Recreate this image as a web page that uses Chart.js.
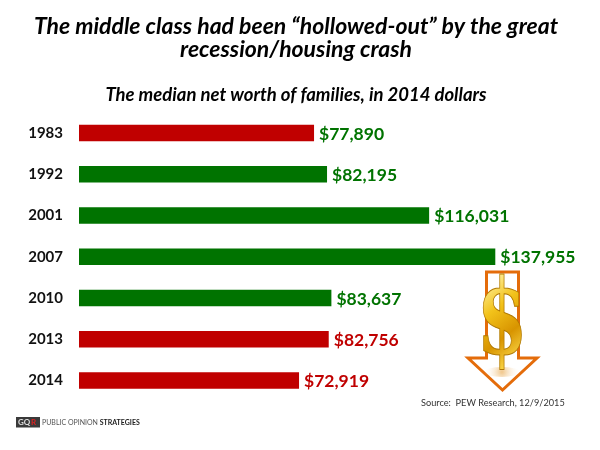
<!DOCTYPE html>
<html>
<head>
<meta charset="utf-8">
<script src="https://cdn.jsdelivr.net/npm/chart.js@4.4.1/dist/chart.umd.min.js"></script>
<style>
  html, body { margin: 0; padding: 0; background: #fff; }
  #wrap { width: 600px; height: 450px; position: relative; }
</style>
</head>
<body>
<div id="wrap"><canvas id="worthChart"></canvas></div>
<script>
// data
const years = ['1983', '1992', '2001', '2007', '2010', '2013', '2014'];
const netWorth = [77890, 82195, 116031, 137955, 83637, 82756, 72919];

const RED = '#C00000';
const GREEN = '#007300';
const barColors = [RED, GREEN, GREEN, GREEN, GREEN, RED, RED];
const labelColors = [GREEN, GREEN, GREEN, GREEN, GREEN, RED, RED];

const FONT = 'Lato, "Open Sans", sans-serif';

// dollar labels at the end of each bar
const valueLabels = {
    id: 'valueLabels',
    afterDatasetsDraw(chart) {
        const ctx = chart.ctx;
        const meta = chart.getDatasetMeta(0);
        ctx.save();
        ctx.font = 'bold 17.5px ' + FONT;
        ctx.textBaseline = 'middle';
        ctx.textAlign = 'left';
        meta.data.forEach((bar, i) => {
            ctx.fillStyle = labelColors[i];
            ctx.fillText('$' + netWorth[i].toLocaleString('en-US'), bar.x + 5, bar.y + 1);
        });
        ctx.restore();
    }
};

// arrow + dollar sign, source note and logo
const decorations = {
    id: 'decorations',
    afterDraw(chart) {
        const ctx = chart.ctx;
        ctx.save();

        // down arrow outline
        ctx.strokeStyle = '#E46C0A';
        ctx.lineWidth = 3;
        ctx.lineJoin = 'miter';
        ctx.beginPath();
        ctx.moveTo(486.5, 272);
        ctx.lineTo(518.5, 272);
        ctx.lineTo(518.5, 358);
        ctx.lineTo(537, 358);
        ctx.lineTo(502.5, 390);
        ctx.lineTo(468, 358);
        ctx.lineTo(486.5, 358);
        ctx.closePath();
        ctx.stroke();

        // glow under the dollar
        const glow = ctx.createRadialGradient(502, 372, 1, 502, 372, 18);
        glow.addColorStop(0, 'rgba(230,160,60,0.55)');
        glow.addColorStop(1, 'rgba(255,255,255,0)');
        ctx.fillStyle = glow;
        ctx.beginPath();
        ctx.ellipse(502, 372, 18, 5, 0, 0, Math.PI * 2);
        ctx.fill();

        // gold dollar sign
        ctx.save();
        ctx.translate(502, 327);
        ctx.scale(0.7, 1);
        const gold = ctx.createLinearGradient(-25, -45, 25, 45);
        gold.addColorStop(0, '#FFF0A0');
        gold.addColorStop(0.3, '#F2C21A');
        gold.addColorStop(0.6, '#D89400');
        gold.addColorStop(0.85, '#F7D040');
        gold.addColorStop(1, '#FFE680');
        ctx.font = 'bold 104px "DejaVu Serif", serif';
        ctx.textAlign = 'center';
        ctx.textBaseline = 'middle';
        ctx.fillStyle = gold;
        ctx.fillText('$', 0, 0);
        ctx.lineWidth = 1;
        ctx.strokeStyle = '#B07800';
        ctx.strokeText('$', 0, 0);
        ctx.restore();

        // source
        ctx.font = '9.2px ' + FONT;
        ctx.fillStyle = '#333';
        ctx.textAlign = 'left';
        ctx.textBaseline = 'middle';
        ctx.fillText('Source:  PEW Research, 12/9/2015', 421, 403);

        // logo
        ctx.fillStyle = '#3a3a3a';
        ctx.fillRect(16, 417, 24, 10.5);
        ctx.font = 'bold 8px ' + FONT;
        ctx.fillStyle = '#ddd';
        ctx.fillText('GQ', 18, 422.5);
        ctx.fillStyle = '#D22';
        ctx.fillText('R', 31, 422.5);
        ctx.font = '7px ' + FONT;
        ctx.fillStyle = '#555';
        ctx.fillText('PUBLIC OPINION', 42, 422.5);
        const w = ctx.measureText('PUBLIC OPINION ').width;
        ctx.font = 'bold 7px ' + FONT;
        ctx.fillStyle = '#222';
        ctx.fillText('STRATEGIES', 42 + w, 422.5);

        ctx.restore();
    }
};

const ctx = document.getElementById('worthChart').getContext('2d');
new Chart(ctx, {
    type: 'bar',
    data: {
        labels: years,
        datasets: [{
            data: netWorth,
            backgroundColor: barColors,
            borderWidth: 0,
            barPercentage: 0.4,
            categoryPercentage: 1.0
        }]
    },
    options: {
        indexAxis: 'y',
        responsive: true,
        maintainAspectRatio: false,
        animation: false,
        layout: { padding: { left: 0, right: 8, top: 0, bottom: 49 } },
        scales: {
            x: { display: false, min: 0, max: 170000 },
            y: {
                grid: { display: false, drawTicks: false },
                border: { display: false },
                ticks: {
                    color: '#111',
                    padding: 16,
                    font: { family: FONT, size: 15, weight: 'bold' }
                },
                afterFit(axis) { axis.width = 79; }
            }
        },
        plugins: {
            legend: { display: false },
            tooltip: { enabled: false },
            title: {
                display: true,
                text: ['The middle class had been \u201Chollowed-out\u201D by the great', 'recession/housing crash'],
                color: '#000',
                font: { family: FONT, size: 23, weight: 'bold', style: 'italic', lineHeight: 0.96 },
                padding: { top: 16, bottom: 24 }
            },
            subtitle: {
                display: true,
                text: 'The median net worth of families, in 2014 dollars',
                color: '#000',
                font: { family: FONT, size: 18.5, weight: 'bold', style: 'italic', lineHeight: 1.2 },
                padding: { top: 0, bottom: 6 }
            }
        }
    },
    plugins: [valueLabels, decorations]
});
</script>
</body>
</html>
